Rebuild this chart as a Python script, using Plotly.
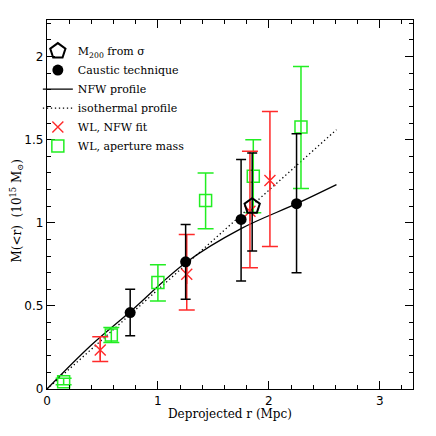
import plotly.graph_objects as go

# caustic technique
caus_r = [0.75, 1.25, 1.75, 2.25]
caus_m = [0.46, 0.765, 1.02, 1.115]
caus_hi = [0.60, 0.99, 1.38, 1.535]
caus_lo = [0.32, 0.54, 0.65, 0.70]

# M200 from velocity dispersion
sig_r = [1.85]
sig_m = [1.10]
sig_hi = [1.42]
sig_lo = [0.83]

# weak lensing, NFW fit
wln_r = [0.48, 1.26, 1.83, 2.01]
wln_m = [0.235, 0.69, 1.07, 1.255]
wln_hi = [0.315, 0.93, 1.43, 1.67]
wln_lo = [0.165, 0.476, 0.73, 0.857]

# weak lensing, aperture mass
wla_r = [0.15, 0.58, 1.0, 1.43, 1.86, 2.29]
wla_m = [0.044, 0.325, 0.64, 1.134, 1.28, 1.576]
wla_hi = [0.065, 0.37, 0.747, 1.30, 1.50, 1.94]
wla_lo = [0.025, 0.28, 0.53, 0.964, 1.06, 1.207]

# model profiles
nfw_r = [0.0, 0.4, 0.75, 1.25, 1.75, 2.25, 2.61]
nfw_m = [0.0, 0.265, 0.465, 0.76, 0.965, 1.115, 1.23]
iso_r = [0.0, 2.61]
iso_m = [0.0, 1.56]

GREEN = "#22ee22"
RED = "#ff2a2a"
SERIF = "DejaVu Serif"


def errs(vals, hi, lo):
    return [h - v for h, v in zip(hi, vals)], [v - l for v, l in zip(vals, lo)]


fig = go.Figure()

fig.add_trace(go.Scatter(
    x=iso_r, y=iso_m, mode="lines", name="isothermal profile",
    line=dict(color="black", width=1.3, dash="1.3px,2.7px"), legendrank=4,
))
fig.add_trace(go.Scatter(
    x=nfw_r, y=nfw_m, mode="lines", name="NFW profile",
    line=dict(color="black", width=1.3, shape="spline"), legendrank=3,
))

up, dn = errs(wla_m, wla_hi, wla_lo)
fig.add_trace(go.Scatter(
    x=wla_r, y=wla_m, mode="markers", name="WL, aperture mass",
    marker=dict(symbol="square-open", size=12, color=GREEN, line=dict(width=1.5)),
    error_y=dict(type="data", array=up, arrayminus=dn, color=GREEN, thickness=1.5, width=8),
    legendrank=6,
))

# red asterisk: an x plus a vertical stroke
up, dn = errs(wln_m, wln_hi, wln_lo)
fig.add_trace(go.Scatter(
    x=wln_r, y=wln_m, mode="markers", name="WL, NFW fit",
    marker=dict(symbol="x-thin-open", size=11, color=RED, line=dict(width=1.4, color=RED)),
    error_y=dict(type="data", array=up, arrayminus=dn, color=RED, thickness=1.5, width=8),
    legendrank=5,
))
fig.add_trace(go.Scatter(
    x=wln_r, y=wln_m, mode="markers", showlegend=False, hoverinfo="skip",
    marker=dict(symbol="line-ns-open", size=14, color=RED, line=dict(width=1.4, color=RED)),
))

up, dn = errs(caus_m, caus_hi, caus_lo)
fig.add_trace(go.Scatter(
    x=caus_r, y=caus_m, mode="markers", name="Caustic technique",
    marker=dict(symbol="circle", size=11, color="black"),
    error_y=dict(type="data", array=up, arrayminus=dn, color="black", thickness=1.5, width=5),
    legendrank=2,
))

up, dn = errs(sig_m, sig_hi, sig_lo)
fig.add_trace(go.Scatter(
    x=sig_r, y=sig_m, mode="markers", name="M<sub>200</sub> from σ",
    marker=dict(symbol="pentagon-open", size=16, color="black", line=dict(width=2, color="black")),
    error_y=dict(type="data", array=up, arrayminus=dn, color="black", thickness=1.5, width=5),
    legendrank=1,
))

axis_common = dict(
    showgrid=False, zeroline=False, showline=True, linecolor="black", linewidth=1.3,
    mirror="ticks", ticks="inside", ticklen=8, tickwidth=1, tickcolor="black",
    tickfont=dict(family="DejaVu Sans", size=12, color="black"), automargin=False,
)

fig.update_xaxes(
    range=[0, 3.3], dtick=1, tick0=0,
    minor=dict(ticks="inside", ticklen=4, dtick=0.2, tick0=0, tickcolor="black"),
    **axis_common,
)
fig.update_yaxes(
    range=[0, 2.22], dtick=0.5, tick0=0,
    minor=dict(ticks="inside", ticklen=4, dtick=0.1, tick0=0, tickcolor="black"),
    **axis_common,
)

# axis titles as annotations so they sit where the original has them
fig.add_annotation(
    text="Deprojected r (Mpc)", xref="paper", yref="paper", x=0.5, y=0,
    xanchor="center", yanchor="middle", yshift=-25, showarrow=False,
    font=dict(family=SERIF, size=12, color="black"),
)
fig.add_annotation(
    text="M(<r)  (10<sup>15</sup> M<sub>⊙</sub>)", xref="paper", yref="paper", x=0, y=0.5,
    xanchor="center", yanchor="middle", xshift=-31, yshift=-6, textangle=-90, showarrow=False,
    font=dict(family=SERIF, size=12, color="black"),
)

# page is shot with an 8px body offset, so margins are shifted to compensate
fig.update_layout(
    width=436, height=436,
    margin=dict(l=39, r=31, t=12, b=55),
    paper_bgcolor="white", plot_bgcolor="white",
    showlegend=True,
    legend=dict(
        x=-0.025, y=0.955, xanchor="left", yanchor="top",
        bgcolor="rgba(0,0,0,0)", borderwidth=0, itemwidth=30,
        font=dict(family=SERIF, size=11, color="black"),
        tracegroupgap=0,
    ),
)

fig.write_html("out.html")
